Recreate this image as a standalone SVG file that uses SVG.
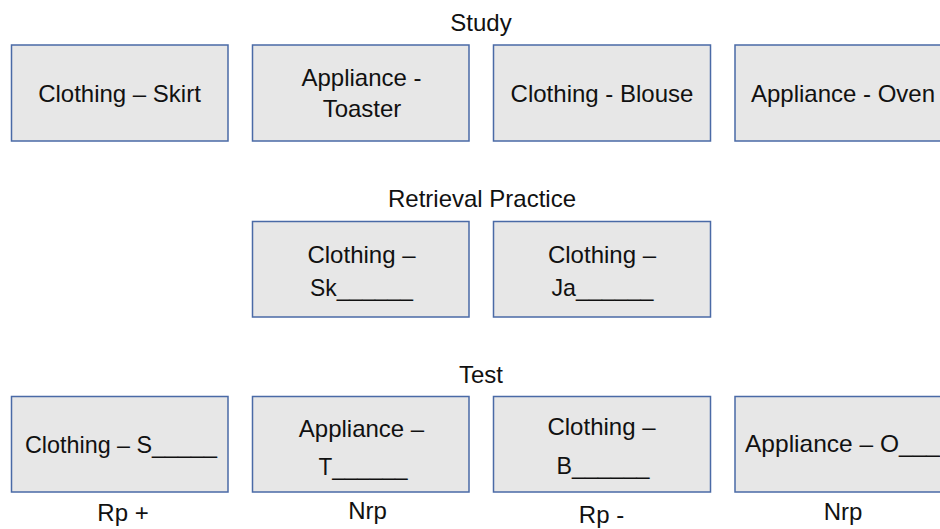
<svg xmlns="http://www.w3.org/2000/svg" width="940" height="529" viewBox="0 0 940 529">
<style>
.box{fill:#e7e7e7;stroke:#4a6aa6;stroke-width:1.5}
text{font-family:"Liberation Sans",Arial,sans-serif;font-size:24px;fill:#111;text-anchor:middle}
</style>
<rect width="940" height="529" fill="#ffffff"/>
<g id="titles">
<text x="481" y="31">Study</text>
<text x="482" y="207">Retrieval Practice</text>
<text x="481" y="383">Test</text>
</g>
<g id="connectors"></g>
<g id="study-skirt"><rect class="box" x="11.5" y="45" width="216.5" height="96"/><text x="119.5" y="102">Clothing – Skirt</text></g>
<g id="study-toaster"><rect class="box" x="252.5" y="45" width="216.5" height="96"/><text x="361.5" y="86">Appliance -</text><text x="362" y="117">Toaster</text></g>
<g id="study-blouse"><rect class="box" x="493.5" y="45" width="217" height="96"/><text x="602" y="102">Clothing - Blouse</text></g>
<g id="study-oven"><rect class="box" x="735" y="45" width="217" height="96"/><text x="843" y="102">Appliance - Oven</text></g>
<g id="rp-sk"><rect class="box" x="252.5" y="221.5" width="216.5" height="95.5"/><text x="361.5" y="263">Clothing –</text><text x="361.5" y="296" textLength="103" lengthAdjust="spacingAndGlyphs">Sk______</text></g>
<g id="rp-ja"><rect class="box" x="493.5" y="221.5" width="217" height="95.5"/><text x="602" y="263">Clothing –</text><text x="602.5" y="296" textLength="102" lengthAdjust="spacingAndGlyphs">Ja______</text></g>
<g id="test-s"><rect class="box" x="11.5" y="396.5" width="216.5" height="95.5"/><text x="121" y="453" textLength="192" lengthAdjust="spacingAndGlyphs">Clothing – S_____</text></g>
<g id="test-t"><rect class="box" x="252.5" y="396.5" width="216.5" height="95.5"/><text x="361.5" y="437">Appliance –</text><text x="363" y="474.5" textLength="89" lengthAdjust="spacingAndGlyphs">T______</text></g>
<g id="test-b"><rect class="box" x="493.5" y="396.5" width="217" height="95.5"/><text x="601.5" y="435">Clothing –</text><text x="603" y="474" textLength="93" lengthAdjust="spacingAndGlyphs">B______</text></g>
<g id="test-o"><rect class="box" x="735" y="396.5" width="217" height="95.5"/><text x="745" y="452" style="text-anchor:start" textLength="195" lengthAdjust="spacingAndGlyphs">Appliance – O___</text></g>
<g id="labels">
<text x="123" y="521">Rp +</text>
<text x="367.5" y="519">Nrp</text>
<text x="601.5" y="523">Rp -</text>
<text x="843" y="520">Nrp</text>
</g>
</svg>
